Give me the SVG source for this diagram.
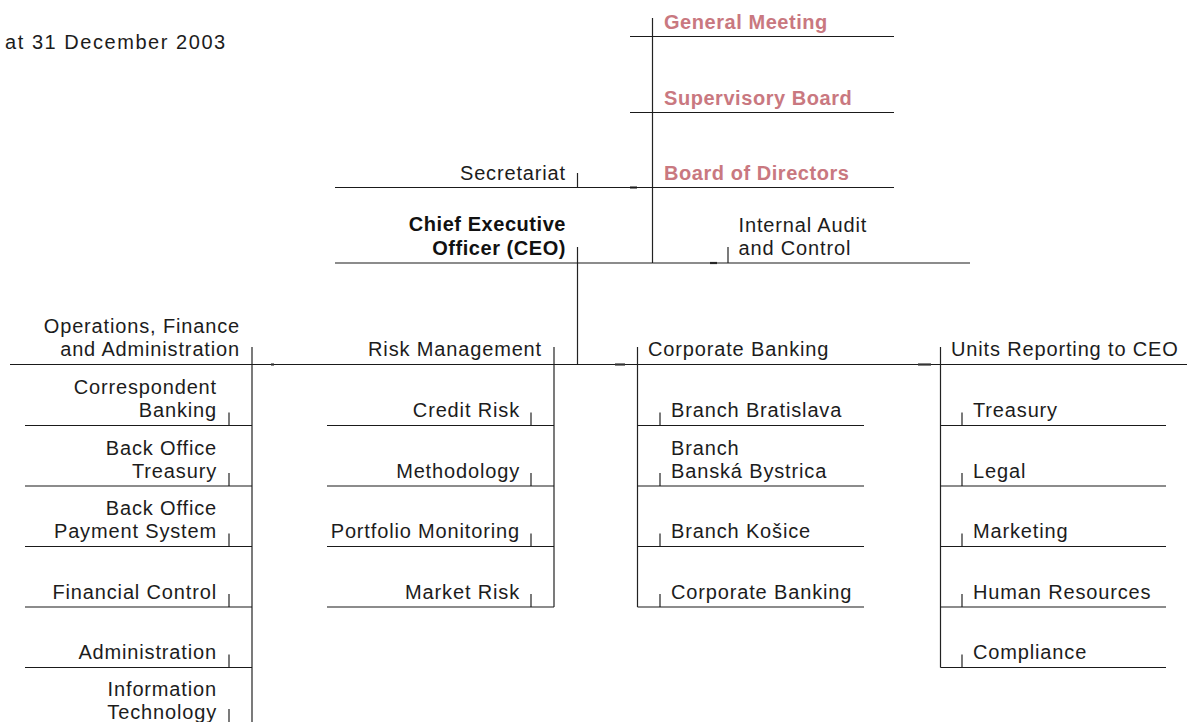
<svg xmlns="http://www.w3.org/2000/svg" width="1187" height="722" viewBox="0 0 1187 722">
  <style>
    .t { font-family: "Liberation Sans", Arial, sans-serif; font-size: 20px; letter-spacing: 0.85px; fill: #1c1c1c; }
    .b { font-family: "Liberation Sans", Arial, sans-serif; font-size: 20px; font-weight: bold; letter-spacing: 0.55px; fill: #111; }
    .p { fill: #c97880; }
    .e { text-anchor: end; }
    .h { stroke: #1a1a1a; stroke-width: 1.2; fill: none; }
    .v { stroke: #222; stroke-width: 1.2; fill: none; }
    .d { stroke: #333; stroke-width: 2.2; fill: none; }
  </style>

  <rect width="1187" height="722" fill="#ffffff"/>

  <text class="t" x="5" y="48.5" style="letter-spacing:1.55px">at 31 December 2003</text>

  <!-- connectors -->
  <g id="connectors">
    <!-- governance spine -->
    <line class="v" x1="652.5" y1="18" x2="652.5" y2="263"/>
    <!-- CEO down to the divisions bus -->
    <line class="v" x1="577.5" y1="247" x2="577.5" y2="364.5"/>
    <!-- divisions bus -->
    <line class="h" x1="10" y1="364.5" x2="1187" y2="364.5"/>
    <!-- division spines -->
    <line class="v" x1="252" y1="347" x2="252" y2="722"/>
    <line class="v" x1="554" y1="347" x2="554" y2="607"/>
    <line class="v" x1="637.5" y1="347" x2="637.5" y2="607"/>
    <line class="v" x1="940.5" y1="347" x2="940.5" y2="667.5"/>
    <!-- small junction marks -->
    <line class="d" x1="630" y1="187.5" x2="637" y2="187.5"/>
    <line class="d" x1="710" y1="263" x2="717" y2="263"/>
    <line class="d" x1="271" y1="364.5" x2="274" y2="364.5"/>
    <line class="d" x1="615" y1="364.5" x2="625" y2="364.5"/>
    <line class="d" x1="918" y1="364.5" x2="931" y2="364.5"/>
  </g>

  <!-- governance -->
  <g id="general-meeting">
    <text class="b p" x="664" y="29">General Meeting</text>
    <line class="h" x1="630" y1="36.5" x2="894" y2="36.5"/>
  </g>
  <g id="supervisory-board">
    <text class="b p" x="664" y="105">Supervisory Board</text>
    <line class="h" x1="630" y1="112.5" x2="894" y2="112.5"/>
  </g>
  <g id="board-of-directors">
    <text class="b p" x="664" y="180">Board of Directors</text>
    <line class="h" x1="630" y1="187.5" x2="894" y2="187.5"/>
  </g>
  <g id="secretariat">
    <text class="t e" x="566" y="179.5">Secretariat</text>
    <line class="h" x1="335" y1="187.5" x2="630" y2="187.5"/>
    <line class="v" x1="577.5" y1="173" x2="577.5" y2="187.5"/>
  </g>
  <g id="ceo">
    <text class="b e" x="566" y="231">Chief Executive</text>
    <text class="b e" x="566" y="255">Officer (CEO)</text>
    <line class="h" x1="335" y1="263" x2="652.5" y2="263"/>
  </g>
  <g id="internal-audit">
    <text class="t" x="738.5" y="231.5">Internal Audit</text>
    <text class="t" x="738.5" y="255">and Control</text>
    <line class="h" x1="652.5" y1="263" x2="970" y2="263"/>
    <line class="v" x1="728" y1="247" x2="728" y2="263"/>
  </g>

  <!-- division headers -->
  <g id="operations">
    <text class="t e" x="240" y="333">Operations, Finance</text>
    <text class="t e" x="240" y="356">and Administration</text>
  </g>
  <g id="risk-management">
    <text class="t e" x="542" y="356">Risk Management</text>
  </g>
  <g id="corporate-banking">
    <text class="t" x="648" y="356">Corporate Banking</text>
  </g>
  <g id="units-reporting">
    <text class="t" x="951" y="356">Units Reporting to CEO</text>
  </g>

  <!-- Operations, Finance and Administration units -->
  <g id="correspondent-banking">
    <text class="t e" x="217" y="394">Correspondent</text>
    <text class="t e" x="217" y="417">Banking</text>
    <line class="v" x1="229" y1="412.5" x2="229" y2="425.5"/>
    <line class="h" x1="25" y1="425.5" x2="252" y2="425.5"/>
  </g>
  <g id="back-office-treasury">
    <text class="t e" x="217" y="454.5">Back Office</text>
    <text class="t e" x="217" y="477.5">Treasury</text>
    <line class="v" x1="229" y1="473" x2="229" y2="486"/>
    <line class="h" x1="25" y1="486" x2="252" y2="486"/>
  </g>
  <g id="back-office-payment">
    <text class="t e" x="217" y="515">Back Office</text>
    <text class="t e" x="217" y="538">Payment System</text>
    <line class="v" x1="229" y1="533.5" x2="229" y2="546.5"/>
    <line class="h" x1="25" y1="546.5" x2="252" y2="546.5"/>
  </g>
  <g id="financial-control">
    <text class="t e" x="217" y="598.5">Financial Control</text>
    <line class="v" x1="229" y1="594" x2="229" y2="607"/>
    <line class="h" x1="25" y1="607" x2="252" y2="607"/>
  </g>
  <g id="administration">
    <text class="t e" x="217" y="659">Administration</text>
    <line class="v" x1="229" y1="654.5" x2="229" y2="667.5"/>
    <line class="h" x1="25" y1="667.5" x2="252" y2="667.5"/>
  </g>
  <g id="information-technology">
    <text class="t e" x="217" y="695.5">Information</text>
    <text class="t e" x="217" y="718.5">Technology</text>
    <line class="v" x1="229" y1="709" x2="229" y2="722"/>
  </g>

  <!-- Risk Management units -->
  <g id="credit-risk">
    <text class="t e" x="520" y="417">Credit Risk</text>
    <line class="v" x1="531" y1="412.5" x2="531" y2="425.5"/>
    <line class="h" x1="327" y1="425.5" x2="554" y2="425.5"/>
  </g>
  <g id="methodology">
    <text class="t e" x="520" y="477.5">Methodology</text>
    <line class="v" x1="531" y1="473" x2="531" y2="486"/>
    <line class="h" x1="327" y1="486" x2="554" y2="486"/>
  </g>
  <g id="portfolio-monitoring">
    <text class="t e" x="520" y="538">Portfolio Monitoring</text>
    <line class="v" x1="531" y1="533.5" x2="531" y2="546.5"/>
    <line class="h" x1="327" y1="546.5" x2="554" y2="546.5"/>
  </g>
  <g id="market-risk">
    <text class="t e" x="520" y="598.5">Market Risk</text>
    <line class="v" x1="531" y1="594" x2="531" y2="607"/>
    <line class="h" x1="327" y1="607" x2="554" y2="607"/>
  </g>

  <!-- Corporate Banking units -->
  <g id="branch-bratislava">
    <text class="t" x="671" y="417">Branch Bratislava</text>
    <line class="v" x1="660" y1="412.5" x2="660" y2="425.5"/>
    <line class="h" x1="637.5" y1="425.5" x2="864" y2="425.5"/>
  </g>
  <g id="branch-banska-bystrica">
    <text class="t" x="671" y="454.5">Branch</text>
    <text class="t" x="671" y="477.5">Banská Bystrica</text>
    <line class="v" x1="660" y1="473" x2="660" y2="486"/>
    <line class="h" x1="637.5" y1="486" x2="864" y2="486"/>
  </g>
  <g id="branch-kosice">
    <text class="t" x="671" y="538">Branch Košice</text>
    <line class="v" x1="660" y1="533.5" x2="660" y2="546.5"/>
    <line class="h" x1="637.5" y1="546.5" x2="864" y2="546.5"/>
  </g>
  <g id="corporate-banking-unit">
    <text class="t" x="671" y="598.5">Corporate Banking</text>
    <line class="v" x1="660" y1="594" x2="660" y2="607"/>
    <line class="h" x1="637.5" y1="607" x2="864" y2="607"/>
  </g>

  <!-- Units reporting to the CEO -->
  <g id="treasury">
    <text class="t" x="973" y="417">Treasury</text>
    <line class="v" x1="962" y1="412.5" x2="962" y2="425.5"/>
    <line class="h" x1="940.5" y1="425.5" x2="1166" y2="425.5"/>
  </g>
  <g id="legal">
    <text class="t" x="973" y="477.5">Legal</text>
    <line class="v" x1="962" y1="473" x2="962" y2="486"/>
    <line class="h" x1="940.5" y1="486" x2="1166" y2="486"/>
  </g>
  <g id="marketing">
    <text class="t" x="973" y="538">Marketing</text>
    <line class="v" x1="962" y1="533.5" x2="962" y2="546.5"/>
    <line class="h" x1="940.5" y1="546.5" x2="1166" y2="546.5"/>
  </g>
  <g id="human-resources">
    <text class="t" x="973" y="598.5">Human Resources</text>
    <line class="v" x1="962" y1="594" x2="962" y2="607"/>
    <line class="h" x1="940.5" y1="607" x2="1166" y2="607"/>
  </g>
  <g id="compliance">
    <text class="t" x="973" y="659">Compliance</text>
    <line class="v" x1="962" y1="654.5" x2="962" y2="667.5"/>
    <line class="h" x1="940.5" y1="667.5" x2="1166" y2="667.5"/>
  </g>
</svg>
